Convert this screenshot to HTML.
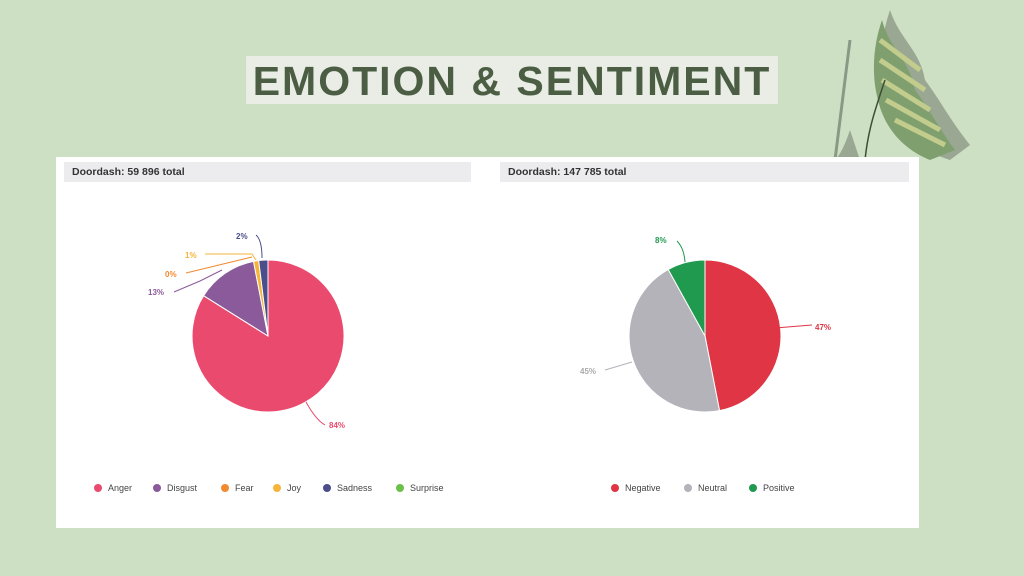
<!DOCTYPE html>
<html><head><style>
body{margin:0;width:1024px;height:576px;background:#cde0c3;font-family:"Liberation Sans",sans-serif;position:relative;overflow:hidden}
.title{position:absolute;left:246px;top:56px;width:532px;height:48px;background:#e9ede6;color:#4b5e43;font-weight:bold;font-size:41px;letter-spacing:2px;text-align:center;line-height:50px;white-space:nowrap}
.panel{position:absolute;left:56px;top:157px;width:863px;height:371px;background:#fff}
.hdr{position:absolute;top:5px;height:20px;background:#ececee;font-size:10.5px;font-weight:bold;color:#333;line-height:20px;padding-left:8px;box-sizing:border-box}
</style></head><body>
<div class="title">EMOTION &amp; SENTIMENT</div>
<svg style="position:absolute;left:830px;top:0" width="190" height="170">
<path d="M60 10 C70 40 90 50 95 80 C110 100 120 120 140 145 L120 160 C90 150 70 140 55 110 C45 80 50 40 60 10Z" fill="#9aa893"/>
<path d="M52 20 C60 50 80 60 85 90 C100 110 110 130 125 150 L100 160 C75 150 55 130 48 100 C40 70 45 40 52 20Z" fill="#7f9f6f"/>
<path d="M50 40 L90 70 M50 60 L95 90 M52 80 L100 110 M56 100 L110 130 M65 120 L115 145" stroke="#c2cc8c" stroke-width="5"/>
<path d="M20 40 C15 80 10 120 5 160" stroke="#8a9886" stroke-width="3" fill="none"/>
<path d="M55 80 C45 110 38 130 35 160" stroke="#3e4e38" stroke-width="1.5" fill="none"/>
<path d="M20 130 C15 145 10 155 5 160 L30 160 Z" fill="#9aa893"/>
</svg>
<div class="panel">
<div class="hdr" style="left:8px;width:407px">Doordash: 59 896 total</div>
<div class="hdr" style="left:444px;width:409px">Doordash: 147 785 total</div>
</div>
<svg style="position:absolute;left:0;top:0" width="1024" height="576" font-family="Liberation Sans" font-size="8" font-weight="bold">
<g stroke="#fff" stroke-width="1">
<path d="M268 336 L268 260 A76 76 0 1 1 203.6 295.7Z" fill="#ea4a6e"/>
<path d="M268 336 L203.6 295.7 A76 76 0 0 1 253.5 261.4Z" fill="#8a5a9a"/>
<path d="M268 336 L253.5 261.4 A76 76 0 0 1 258.7 260.5Z" fill="#f6b43a"/>
<path d="M268 336 L258.7 260.5 A76 76 0 0 1 268 260Z" fill="#4a4e8a"/>
<path d="M705 336 L705 260 A76 76 0 0 1 719.5 410.6Z" fill="#df3545"/>
<path d="M705 336 L719.5 410.6 A76 76 0 0 1 668.2 269.5Z" fill="#b4b3ba"/>
<path d="M705 336 L668.2 269.5 A76 76 0 0 1 705 260Z" fill="#209a4f"/>
</g>
<g fill="none" stroke-width="1">
<path d="M306 402 Q316 420 325 425" stroke="#ea4a6e"/>
<path d="M174 292 L200 281 L222 270" stroke="#8a5a9a"/>
<path d="M186 273 L252 257" stroke="#f08a30"/>
<path d="M205 254 L252 254 L256 260" stroke="#f6b43a"/>
<path d="M256 235 Q262 240 262 258" stroke="#4a4e8a"/>
<path d="M775 328 L812 325" stroke="#df3545"/>
<path d="M605 370 L632 362" stroke="#b4b3ba"/>
<path d="M677 241 Q684 248 685 262" stroke="#209a4f"/>
</g>
<text x="329" y="428" fill="#ea4a6e">84%</text>
<text x="148" y="295" fill="#8a5a9a">13%</text>
<text x="165" y="277" fill="#f08a30">0%</text>
<text x="185" y="258" fill="#f6b43a">1%</text>
<text x="236" y="239" fill="#4a4e8a">2%</text>
<text x="815" y="330" fill="#df3545">47%</text>
<text x="580" y="374" fill="#aaa">45%</text>
<text x="655" y="243" fill="#209a4f">8%</text>
<g font-weight="normal" font-size="9" fill="#444">
<circle cx="98" cy="488" r="4" fill="#ea4a6e"/><text x="108" y="491">Anger</text>
<circle cx="157" cy="488" r="4" fill="#8a5a9a"/><text x="167" y="491">Disgust</text>
<circle cx="225" cy="488" r="4" fill="#f08a30"/><text x="235" y="491">Fear</text>
<circle cx="277" cy="488" r="4" fill="#f6b43a"/><text x="287" y="491">Joy</text>
<circle cx="327" cy="488" r="4" fill="#4a4e8a"/><text x="337" y="491">Sadness</text>
<circle cx="400" cy="488" r="4" fill="#6cc04a"/><text x="410" y="491">Surprise</text>
<circle cx="615" cy="488" r="4" fill="#df3545"/><text x="625" y="491">Negative</text>
<circle cx="688" cy="488" r="4" fill="#b4b3ba"/><text x="698" y="491">Neutral</text>
<circle cx="753" cy="488" r="4" fill="#209a4f"/><text x="763" y="491">Positive</text>
</g>
</svg>
</body></html>
